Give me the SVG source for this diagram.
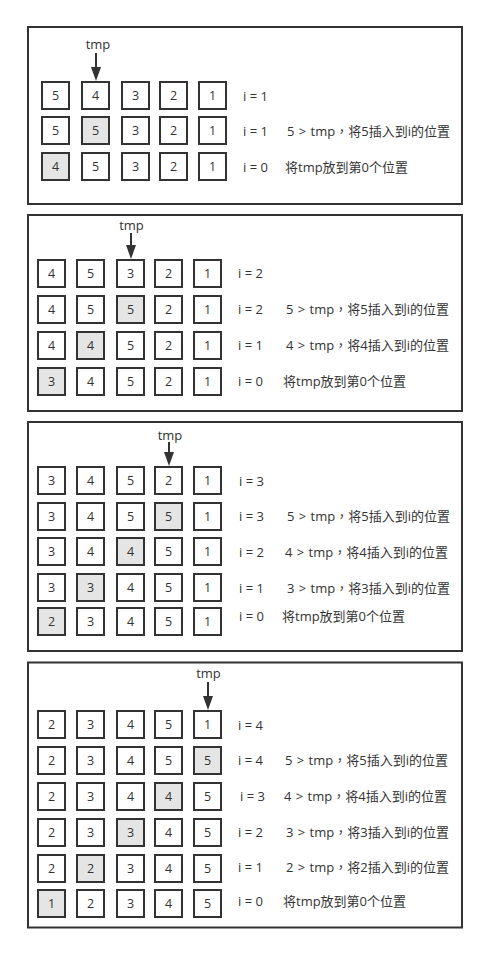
<svg xmlns="http://www.w3.org/2000/svg" width="495" height="954" viewBox="0 0 495 954">
<style>
.panel{fill:#fff;stroke:#333;stroke-width:2}
.b{fill:#fff;stroke:#333;stroke-width:2}
.h{fill:#e5e5e5;stroke:#333;stroke-width:2}
text{font-family:"Open Sans","Noto Sans CJK SC",sans-serif;font-size:13px;fill:#333}
.n{text-anchor:middle;font-size:12.5px}
.t{text-anchor:middle}
.d{word-spacing:1px}
.c{font-family:"Noto Sans CJK TC",sans-serif}
.arr{stroke:#333;stroke-width:2;fill:none;marker-end:url(#ah)}
</style>
<defs>
<marker id="ah" markerUnits="userSpaceOnUse" viewBox="0 0 14 10" refX="10" refY="5" markerWidth="14" markerHeight="10" orient="auto">
<path d="M0,0 L14,5 L0,10 z" fill="#333"/>
</marker>
</defs>
<rect width="495" height="954" fill="#fff"/>

<g id="panel1">
<rect class="panel" x="28" y="27" width="434" height="177"/>
<text class="t" x="98" y="49">tmp</text>
<g id="p1r1">
<rect class="b" x="42" y="82" width="27" height="27"/><text class="n" x="55.5" y="100">5</text>
<rect class="b" x="82" y="82" width="27" height="27"/><text class="n" x="95.5" y="100">4</text>
<rect class="b" x="122" y="82" width="27" height="27"/><text class="n" x="135.5" y="100">3</text>
<rect class="b" x="160" y="82" width="27" height="27"/><text class="n" x="173.5" y="100">2</text>
<rect class="b" x="199" y="82" width="27" height="27"/><text class="n" x="212.5" y="100">1</text>
<text x="243" y="101">i = 1</text>
</g>
<g id="p1r2">
<rect class="b" x="42" y="117" width="27" height="27"/><text class="n" x="55.5" y="135">5</text>
<rect class="h" x="82" y="117" width="27" height="27"/><text class="n" x="95.5" y="135">5</text>
<rect class="b" x="122" y="117" width="27" height="27"/><text class="n" x="135.5" y="135">3</text>
<rect class="b" x="160" y="117" width="27" height="27"/><text class="n" x="173.5" y="135">2</text>
<rect class="b" x="199" y="117" width="27" height="27"/><text class="n" x="212.5" y="135">1</text>
<text x="243" y="136">i = 1<tspan class="d" x="287">5 &gt; tmp<tspan class="c">，</tspan>将5插入到i的位置</tspan></text>
</g>
<g id="p1r3">
<rect class="h" x="42" y="153" width="27" height="27"/><text class="n" x="55.5" y="171">4</text>
<rect class="b" x="82" y="153" width="27" height="27"/><text class="n" x="95.5" y="171">5</text>
<rect class="b" x="122" y="153" width="27" height="27"/><text class="n" x="135.5" y="171">3</text>
<rect class="b" x="160" y="153" width="27" height="27"/><text class="n" x="173.5" y="171">2</text>
<rect class="b" x="199" y="153" width="27" height="27"/><text class="n" x="212.5" y="171">1</text>
<text x="243" y="172">i = 0<tspan x="285">将tmp放到第0个位置</tspan></text>
</g>
</g>

<g id="panel2">
<rect class="panel" x="28" y="215" width="434" height="196"/>
<text class="t" x="131.5" y="230">tmp</text>
<g id="p2r1">
<rect class="b" x="38" y="260" width="27" height="27"/><text class="n" x="51.5" y="278">4</text>
<rect class="b" x="77" y="260" width="27" height="27"/><text class="n" x="90.5" y="278">5</text>
<rect class="b" x="117" y="260" width="27" height="27"/><text class="n" x="130.5" y="278">3</text>
<rect class="b" x="155" y="260" width="27" height="27"/><text class="n" x="168.5" y="278">2</text>
<rect class="b" x="194" y="260" width="27" height="27"/><text class="n" x="207.5" y="278">1</text>
<text x="238" y="278">i = 2</text>
</g>
<g id="p2r2">
<rect class="b" x="38" y="296" width="27" height="27"/><text class="n" x="51.5" y="314">4</text>
<rect class="b" x="77" y="296" width="27" height="27"/><text class="n" x="90.5" y="314">5</text>
<rect class="h" x="117" y="296" width="27" height="27"/><text class="n" x="130.5" y="314">5</text>
<rect class="b" x="155" y="296" width="27" height="27"/><text class="n" x="168.5" y="314">2</text>
<rect class="b" x="194" y="296" width="27" height="27"/><text class="n" x="207.5" y="314">1</text>
<text x="238" y="314">i = 2<tspan class="d" x="286">5 &gt; tmp<tspan class="c">，</tspan>将5插入到i的位置</tspan></text>
</g>
<g id="p2r3">
<rect class="b" x="38" y="332" width="27" height="27"/><text class="n" x="51.5" y="350">4</text>
<rect class="h" x="77" y="332" width="27" height="27"/><text class="n" x="90.5" y="350">4</text>
<rect class="b" x="117" y="332" width="27" height="27"/><text class="n" x="130.5" y="350">5</text>
<rect class="b" x="155" y="332" width="27" height="27"/><text class="n" x="168.5" y="350">2</text>
<rect class="b" x="194" y="332" width="27" height="27"/><text class="n" x="207.5" y="350">1</text>
<text x="238" y="350">i = 1<tspan class="d" x="286">4 &gt; tmp<tspan class="c">，</tspan>将4插入到i的位置</tspan></text>
</g>
<g id="p2r4">
<rect class="h" x="38" y="368" width="27" height="27"/><text class="n" x="51.5" y="386">3</text>
<rect class="b" x="77" y="368" width="27" height="27"/><text class="n" x="90.5" y="386">4</text>
<rect class="b" x="117" y="368" width="27" height="27"/><text class="n" x="130.5" y="386">5</text>
<rect class="b" x="155" y="368" width="27" height="27"/><text class="n" x="168.5" y="386">2</text>
<rect class="b" x="194" y="368" width="27" height="27"/><text class="n" x="207.5" y="386">1</text>
<text x="238" y="386">i = 0<tspan x="283">将tmp放到第0个位置</tspan></text>
</g>
</g>

<g id="panel3">
<rect class="panel" x="28" y="422" width="434" height="229"/>
<text class="t" x="170" y="440">tmp</text>
<g id="p3r1">
<rect class="b" x="38" y="467" width="27" height="27"/><text class="n" x="51.5" y="485">3</text>
<rect class="b" x="77" y="467" width="27" height="27"/><text class="n" x="90.5" y="485">4</text>
<rect class="b" x="117" y="467" width="27" height="27"/><text class="n" x="130.5" y="485">5</text>
<rect class="b" x="155" y="467" width="27" height="27"/><text class="n" x="168.5" y="485">2</text>
<rect class="b" x="194" y="467" width="27" height="27"/><text class="n" x="207.5" y="485">1</text>
<text x="239" y="486">i = 3</text>
</g>
<g id="p3r2">
<rect class="b" x="38" y="503" width="27" height="27"/><text class="n" x="51.5" y="521">3</text>
<rect class="b" x="77" y="503" width="27" height="27"/><text class="n" x="90.5" y="521">4</text>
<rect class="b" x="117" y="503" width="27" height="27"/><text class="n" x="130.5" y="521">5</text>
<rect class="h" x="155" y="503" width="27" height="27"/><text class="n" x="168.5" y="521">5</text>
<rect class="b" x="194" y="503" width="27" height="27"/><text class="n" x="207.5" y="521">1</text>
<text x="239" y="521">i = 3<tspan class="d" x="287">5 &gt; tmp<tspan class="c">，</tspan>将5插入到i的位置</tspan></text>
</g>
<g id="p3r3">
<rect class="b" x="38" y="538" width="27" height="27"/><text class="n" x="51.5" y="556">3</text>
<rect class="b" x="77" y="538" width="27" height="27"/><text class="n" x="90.5" y="556">4</text>
<rect class="h" x="117" y="538" width="27" height="27"/><text class="n" x="130.5" y="556">4</text>
<rect class="b" x="155" y="538" width="27" height="27"/><text class="n" x="168.5" y="556">5</text>
<rect class="b" x="194" y="538" width="27" height="27"/><text class="n" x="207.5" y="556">1</text>
<text x="239" y="557">i = 2<tspan class="d" x="285">4 &gt; tmp<tspan class="c">，</tspan>将4插入到i的位置</tspan></text>
</g>
<g id="p3r4">
<rect class="b" x="38" y="574" width="27" height="27"/><text class="n" x="51.5" y="592">3</text>
<rect class="h" x="77" y="574" width="27" height="27"/><text class="n" x="90.5" y="592">3</text>
<rect class="b" x="117" y="574" width="27" height="27"/><text class="n" x="130.5" y="592">4</text>
<rect class="b" x="155" y="574" width="27" height="27"/><text class="n" x="168.5" y="592">5</text>
<rect class="b" x="194" y="574" width="27" height="27"/><text class="n" x="207.5" y="592">1</text>
<text x="239" y="593">i = 1<tspan class="d" x="287">3 &gt; tmp<tspan class="c">，</tspan>将3插入到i的位置</tspan></text>
</g>
<g id="p3r5">
<rect class="h" x="38" y="608" width="27" height="27"/><text class="n" x="51.5" y="626">2</text>
<rect class="b" x="77" y="608" width="27" height="27"/><text class="n" x="90.5" y="626">3</text>
<rect class="b" x="117" y="608" width="27" height="27"/><text class="n" x="130.5" y="626">4</text>
<rect class="b" x="155" y="608" width="27" height="27"/><text class="n" x="168.5" y="626">5</text>
<rect class="b" x="194" y="608" width="27" height="27"/><text class="n" x="207.5" y="626">1</text>
<text x="239" y="621">i = 0<tspan x="282">将tmp放到第0个位置</tspan></text>
</g>
</g>

<g id="panel4">
<rect class="panel" x="28" y="662.5" width="434" height="265"/>
<text class="t" x="208.5" y="678">tmp</text>
<g id="p4r1">
<rect class="b" x="38" y="711" width="27" height="27"/><text class="n" x="51.5" y="729">2</text>
<rect class="b" x="77" y="711" width="27" height="27"/><text class="n" x="90.5" y="729">3</text>
<rect class="b" x="117" y="711" width="27" height="27"/><text class="n" x="130.5" y="729">4</text>
<rect class="b" x="155" y="711" width="27" height="27"/><text class="n" x="168.5" y="729">5</text>
<rect class="b" x="194" y="711" width="27" height="27"/><text class="n" x="207.5" y="729">1</text>
<text x="238" y="730">i = 4</text>
</g>
<g id="p4r2">
<rect class="b" x="38" y="747" width="27" height="27"/><text class="n" x="51.5" y="765">2</text>
<rect class="b" x="77" y="747" width="27" height="27"/><text class="n" x="90.5" y="765">3</text>
<rect class="b" x="117" y="747" width="27" height="27"/><text class="n" x="130.5" y="765">4</text>
<rect class="b" x="155" y="747" width="27" height="27"/><text class="n" x="168.5" y="765">5</text>
<rect class="h" x="194" y="747" width="27" height="27"/><text class="n" x="207.5" y="765">5</text>
<text x="238" y="765">i = 4<tspan class="d" x="285">5 &gt; tmp<tspan class="c">，</tspan>将5插入到i的位置</tspan></text>
</g>
<g id="p4r3">
<rect class="b" x="38" y="783" width="27" height="27"/><text class="n" x="51.5" y="801">2</text>
<rect class="b" x="77" y="783" width="27" height="27"/><text class="n" x="90.5" y="801">3</text>
<rect class="b" x="117" y="783" width="27" height="27"/><text class="n" x="130.5" y="801">4</text>
<rect class="h" x="155" y="783" width="27" height="27"/><text class="n" x="168.5" y="801">4</text>
<rect class="b" x="194" y="783" width="27" height="27"/><text class="n" x="207.5" y="801">5</text>
<text x="240" y="801">i = 3<tspan class="d" x="284">4 &gt; tmp<tspan class="c">，</tspan>将4插入到i的位置</tspan></text>
</g>
<g id="p4r4">
<rect class="b" x="38" y="819" width="27" height="27"/><text class="n" x="51.5" y="837">2</text>
<rect class="b" x="77" y="819" width="27" height="27"/><text class="n" x="90.5" y="837">3</text>
<rect class="h" x="117" y="819" width="27" height="27"/><text class="n" x="130.5" y="837">3</text>
<rect class="b" x="155" y="819" width="27" height="27"/><text class="n" x="168.5" y="837">4</text>
<rect class="b" x="194" y="819" width="27" height="27"/><text class="n" x="207.5" y="837">5</text>
<text x="238" y="837">i = 2<tspan class="d" x="286">3 &gt; tmp<tspan class="c">，</tspan>将3插入到i的位置</tspan></text>
</g>
<g id="p4r5">
<rect class="b" x="38" y="855" width="27" height="27"/><text class="n" x="51.5" y="873">2</text>
<rect class="h" x="77" y="855" width="27" height="27"/><text class="n" x="90.5" y="873">2</text>
<rect class="b" x="117" y="855" width="27" height="27"/><text class="n" x="130.5" y="873">3</text>
<rect class="b" x="155" y="855" width="27" height="27"/><text class="n" x="168.5" y="873">4</text>
<rect class="b" x="194" y="855" width="27" height="27"/><text class="n" x="207.5" y="873">5</text>
<text x="238" y="872">i = 1<tspan class="d" x="286">2 &gt; tmp<tspan class="c">，</tspan>将2插入到i的位置</tspan></text>
</g>
<g id="p4r6">
<rect class="h" x="38" y="890" width="27" height="27"/><text class="n" x="51.5" y="908">1</text>
<rect class="b" x="77" y="890" width="27" height="27"/><text class="n" x="90.5" y="908">2</text>
<rect class="b" x="117" y="890" width="27" height="27"/><text class="n" x="130.5" y="908">3</text>
<rect class="b" x="155" y="890" width="27" height="27"/><text class="n" x="168.5" y="908">4</text>
<rect class="b" x="194" y="890" width="27" height="27"/><text class="n" x="207.5" y="908">5</text>
<text x="238" y="906">i = 0<tspan x="283">将tmp放到第0个位置</tspan></text>
</g>
</g>

<g id="connectors">
<path class="arr" d="M96,53 V77"/>
<path class="arr" d="M131,233 V255"/>
<path class="arr" d="M169,442 V462"/>
<path class="arr" d="M208,682 V706"/>
</g>
</svg>
